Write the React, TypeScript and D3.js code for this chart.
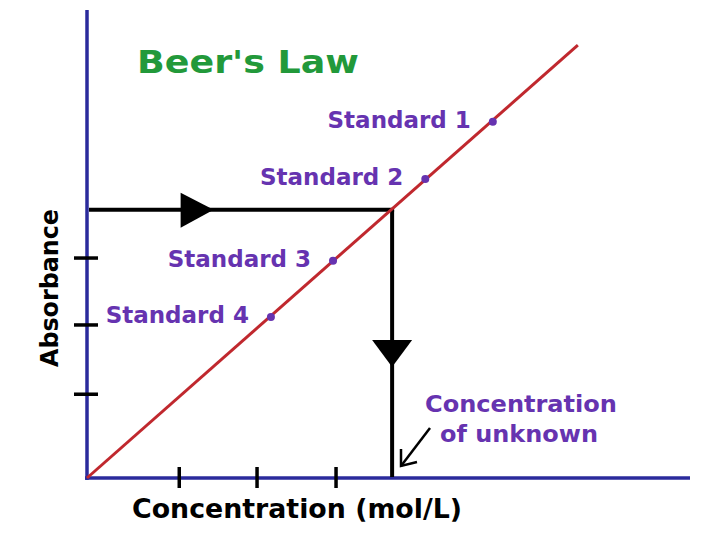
import React from 'react';
import * as d3 from 'd3';

// values (both axes in 0..100 "axis units")
const standardNames = ['Standard 1', 'Standard 2', 'Standard 3', 'Standard 4'];
const standardConc = [67.3, 56.1, 40.8, 30.5];
const standardAbs = [76.1, 63.9, 46.4, 34.4];
const lineConc = [0, 81.4];
const lineAbs = [0, 92.5];
const xTicks = [15.3, 28.2, 41.3];
const yTicks = [17.9, 32.7, 47.0];
const unknownConc = 50.6;
const unknownAbs = 57.3;
const rightArrowAt = 21; // conc where right arrow tip sits
const downArrowAt = 23.7; // absorbance where down arrow tip sits

const W = 720;
const H = 540;
const FONT = '"DejaVu Sans", Verdana, sans-serif';
const AXIS = '#2b2b9c';
const PURPLE = '#6633b0';

const App = () => {
  const x = d3.scaleLinear().domain([0, 100]).range([87, 690]);
  const y = d3.scaleLinear().domain([0, 100]).range([478, 10]);

  const redLine = d3.line<number>()
    .x((d) => x(lineConc[d]))
    .y((d) => y(lineAbs[d]));

  const hx = x(rightArrowAt);
  const hy = y(unknownAbs);
  const vx = x(unknownConc);
  const vy = y(downArrowAt);

  return (
    <svg width={W} height={H} style={{position: 'absolute', left: 0, top: 0, background: '#fff'}}>
      <text x={137} y={73} fontFamily={FONT} fontWeight="bold" fontSize={32} fill="#22993a"
        textLength={222} lengthAdjust="spacingAndGlyphs">Beer's Law</text>

      {/* axes */}
      <line x1={x(0)} x2={x(0)} y1={y(100)} y2={y(0) + 2} stroke={AXIS} strokeWidth={3.5} />
      <line x1={x(0) - 2} x2={x(100)} y1={y(0)} y2={y(0)} stroke={AXIS} strokeWidth={3.5} />
      {xTicks.map((t, i) => (
        <line key={'xt' + i} x1={x(t)} x2={x(t)} y1={y(0) - 11} y2={y(0) + 10} stroke="#000" strokeWidth={3.5} />
      ))}
      {yTicks.map((t, i) => (
        <line key={'yt' + i} x1={x(0) - 13} x2={x(0) + 11} y1={y(t)} y2={y(t)} stroke="#000" strokeWidth={3.5} />
      ))}

      {/* reading lines */}
      <line x1={x(0) + 2} x2={vx + 2} y1={hy} y2={hy} stroke="#000" strokeWidth={4} />
      <line x1={vx} x2={vx} y1={hy} y2={y(0) - 1} stroke="#000" strokeWidth={4} />
      <path d={`M${hx},${hy} L${hx - 33},${hy - 17} L${hx - 33},${hy + 18} Z`} fill="#000" />
      <path d={`M${vx},${vy} L${vx - 20},${vy - 27} L${vx + 20},${vy - 27} Z`} fill="#000" />

      {/* calibration line */}
      <path d={redLine([0, 1]) || ''} stroke="#c0282e" strokeWidth={3} fill="none" />

      {standardNames.map((n, i) => (
        <g key={n}>
          <circle cx={x(standardConc[i])} cy={y(standardAbs[i])} r={4} fill={PURPLE} />
          <text x={x(standardConc[i]) - 22} y={y(standardAbs[i]) + 6} textAnchor="end"
            fontFamily={FONT} fontWeight="bold" fontSize={23} fill={PURPLE}>{n}</text>
        </g>
      ))}

      <text x={425} y={412} fontFamily={FONT} fontWeight="bold" fontSize={23} fill={PURPLE}
        textLength={192} lengthAdjust="spacingAndGlyphs">Concentration</text>
      <text x={440} y={442} fontFamily={FONT} fontWeight="bold" fontSize={23} fill={PURPLE}
        textLength={158} lengthAdjust="spacingAndGlyphs">of unknown</text>
      <line x1={430} y1={428} x2={401} y2={466} stroke="#000" strokeWidth={2.5} />
      <path d="M401,449 L401,466 L417,462" stroke="#000" strokeWidth={2.5} fill="none" />

      <text x={132} y={518} fontFamily={FONT} fontWeight="bold" fontSize={27} fill="#000"
        textLength={330} lengthAdjust="spacingAndGlyphs">Concentration (mol/L)</text>
      <text transform="translate(58,367) rotate(-90)" fontFamily={FONT} fontWeight="bold" fontSize={24}
        fill="#000" textLength={158} lengthAdjust="spacingAndGlyphs">Absorbance</text>
    </svg>
  );
};

export default App;
